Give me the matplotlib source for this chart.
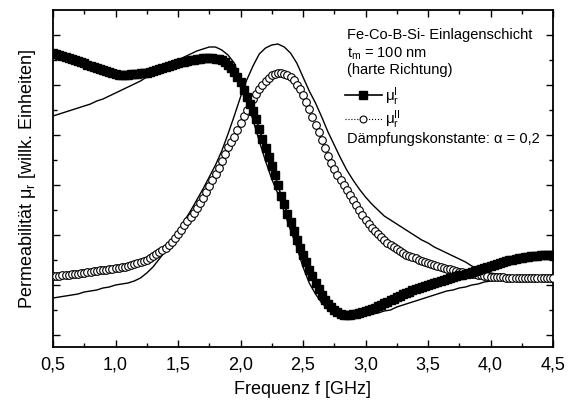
import numpy as np
import matplotlib
matplotlib.use('Agg')
import matplotlib.pyplot as plt
from matplotlib.ticker import FixedLocator

plt.rcParams['font.family'] = ['Liberation Sans', 'DejaVu Sans']
plt.rcParams['mathtext.fontset'] = 'custom'
plt.rcParams['mathtext.rm'] = 'Liberation Sans'
plt.rcParams['mathtext.it'] = 'Liberation Sans:italic'

# Messwerte, 0.5 .. 4.5 GHz in 0.025 GHz Schritten
f_meas = np.round(np.arange(0.5, 4.5001, 0.025), 3)

mu1_meas = [
    2.94, 2.93, 2.92, 2.91, 2.90, 2.89, 2.88, 2.87, 2.86, 2.85,
    2.84, 2.82, 2.81, 2.80, 2.79, 2.78, 2.77, 2.76, 2.75, 2.74,
    2.73, 2.72, 2.72, 2.72, 2.72, 2.73, 2.73, 2.73, 2.74, 2.74,
    2.74, 2.75, 2.76, 2.77, 2.78, 2.79, 2.80, 2.81, 2.82, 2.83,
    2.84, 2.85, 2.85, 2.86, 2.87, 2.87, 2.88, 2.88, 2.89, 2.89,
    2.89, 2.89, 2.88, 2.88, 2.87, 2.85, 2.82, 2.79, 2.75, 2.70,
    2.65, 2.57, 2.50, 2.43, 2.36, 2.28, 2.18, 2.08, 1.99, 1.90,
    1.81, 1.72, 1.62, 1.51, 1.43, 1.33, 1.25, 1.16, 1.07, 0.99,
    0.92, 0.85, 0.77, 0.71, 0.64, 0.58, 0.52, 0.47, 0.43, 0.40,
    0.37, 0.35, 0.33, 0.32, 0.32, 0.32, 0.33, 0.33, 0.34, 0.35,
    0.36, 0.37, 0.38, 0.39, 0.41, 0.42, 0.44, 0.45, 0.47, 0.48,
    0.50, 0.51, 0.53, 0.54, 0.55, 0.57, 0.58, 0.59, 0.60, 0.61,
    0.62, 0.63, 0.64, 0.65, 0.66, 0.67, 0.68, 0.69, 0.70, 0.71,
    0.72, 0.72, 0.73, 0.74, 0.75, 0.76, 0.77, 0.78, 0.79, 0.80,
    0.81, 0.82, 0.83, 0.84, 0.85, 0.86, 0.87, 0.87, 0.88, 0.89,
    0.89, 0.90, 0.90, 0.91, 0.91, 0.91, 0.92, 0.92, 0.92, 0.92,
    0.92,
]

mu2_meas = [
    0.71, 0.71, 0.71, 0.72, 0.72, 0.72, 0.73, 0.73, 0.73, 0.74,
    0.74, 0.75, 0.75, 0.76, 0.76, 0.77, 0.77, 0.77, 0.78, 0.78,
    0.79, 0.79, 0.80, 0.80, 0.81, 0.82, 0.83, 0.84, 0.85, 0.86,
    0.87, 0.89, 0.91, 0.93, 0.95, 0.97, 0.99, 1.02, 1.05, 1.09,
    1.13, 1.17, 1.22, 1.26, 1.30, 1.34, 1.39, 1.44, 1.49, 1.55,
    1.61, 1.67, 1.73, 1.79, 1.86, 1.93, 2.00, 2.05, 2.10, 2.17,
    2.24, 2.31, 2.37, 2.43, 2.48, 2.53, 2.58, 2.62, 2.66, 2.69,
    2.72, 2.73, 2.74, 2.74, 2.73, 2.72, 2.70, 2.67, 2.62, 2.58,
    2.52, 2.45, 2.38, 2.30, 2.22, 2.15, 2.07, 1.99, 1.91, 1.84,
    1.78, 1.72, 1.67, 1.62, 1.57, 1.52, 1.47, 1.42, 1.37, 1.32,
    1.27, 1.23, 1.19, 1.16, 1.13, 1.10, 1.07, 1.04, 1.02, 1.00,
    0.98, 0.96, 0.94, 0.92, 0.91, 0.90, 0.89, 0.87, 0.86, 0.85,
    0.84, 0.83, 0.82, 0.81, 0.80, 0.79, 0.78, 0.78, 0.77, 0.76,
    0.75, 0.75, 0.74, 0.74, 0.73, 0.73, 0.72, 0.72, 0.71, 0.71,
    0.70, 0.70, 0.70, 0.70, 0.70, 0.69, 0.69, 0.69, 0.69, 0.69,
    0.69, 0.69, 0.69, 0.69, 0.69, 0.69, 0.69, 0.69, 0.69, 0.69,
    0.69,
]

# Rechnung (duenne Linien), 0.05 GHz Schritte
f_calc = np.round(np.arange(0.5, 4.5001, 0.05), 3)

mu1_calc = [
    2.31, 2.33, 2.35, 2.37, 2.39, 2.41, 2.43, 2.46, 2.48, 2.51,
    2.54, 2.57, 2.60, 2.63, 2.66, 2.70, 2.73, 2.77, 2.81, 2.84,
    2.87, 2.90, 2.93, 2.96, 2.98, 3.00, 3.00, 2.97, 2.92, 2.84,
    2.66, 2.47, 2.27, 2.06, 1.86, 1.68, 1.53, 1.35, 1.17, 1.00,
    0.80, 0.64, 0.53, 0.44, 0.38, 0.33, 0.30, 0.29, 0.29, 0.30,
    0.31, 0.33, 0.34, 0.36, 0.37, 0.40, 0.42, 0.44, 0.46, 0.48,
    0.50, 0.52, 0.54, 0.56, 0.57, 0.59, 0.60, 0.62, 0.63, 0.65,
    0.66, 0.67, 0.68, 0.68, 0.69, 0.69, 0.70, 0.70, 0.71, 0.71,
    0.72,
]

mu2_calc = [
    0.49, 0.50, 0.51, 0.52, 0.53, 0.55, 0.56, 0.57, 0.59, 0.60,
    0.62, 0.63, 0.64, 0.66, 0.69, 0.74, 0.80, 0.88, 0.96, 1.05,
    1.15, 1.26, 1.36, 1.47, 1.58, 1.70, 1.82, 1.96, 2.13, 2.31,
    2.50, 2.67, 2.81, 2.93, 2.99, 3.02, 3.03, 3.00, 2.94, 2.84,
    2.70, 2.56, 2.44, 2.30, 2.15, 2.02, 1.89, 1.77, 1.67, 1.58,
    1.50, 1.43, 1.37, 1.31, 1.27, 1.23, 1.19, 1.15, 1.11, 1.07,
    1.04, 1.00, 0.97, 0.94, 0.91, 0.88, 0.85, 0.81, 0.78, 0.76,
    0.74, 0.73, 0.72, 0.71, 0.70, 0.69, 0.68, 0.67, 0.66, 0.66,
    0.65,
]

xticks = [0.5, 1.0, 1.5, 2.0, 2.5, 3.0, 3.5, 4.0, 4.5]
xtick_labels = ['0,5', '1,0', '1,5', '2,0', '2,5', '3,0', '3,5', '4,0', '4,5']


fig = plt.figure(figsize=(5.72, 4.03), dpi=100)
ax = fig.add_axes([53 / 572, 56 / 403, 500 / 572, 337 / 403])

# theory curves
ax.plot(f_calc, mu1_calc, color='black', lw=1.0, zorder=2)
ax.plot(f_calc, mu2_calc, color='black', lw=1.0, zorder=2)

# measured
ax.plot(f_meas, mu2_meas, linestyle=':', lw=0.8, color='black',
        marker='o', markersize=5.5, markerfacecolor='white',
        markeredgecolor='black', markeredgewidth=0.8,
        label=r'$\mathregular{μ_r^{II}}$', zorder=3)
ax.plot(f_meas, mu1_meas, linestyle='-', lw=1.2, color='black',
        marker='s', markersize=6, markerfacecolor='black',
        markeredgecolor='black', label=r'$\mathregular{μ_r^{I}}$', zorder=4)

ax.set_xlim(0.5, 4.5)
ax.set_ylim(0, 3.37)
ax.set_xticks(xticks)
ax.set_xticklabels(xtick_labels)
ax.xaxis.set_minor_locator(FixedLocator(np.arange(0.75, 4.5, 0.5)))
ax.set_yticks(np.arange(0.12, 3.2, 0.5))
ax.yaxis.set_minor_locator(FixedLocator(np.arange(0.37, 3.2, 0.5)))
ax.set_yticklabels([])

ax.tick_params(which='both', direction='in', top=True, right=True, width=1.0)
ax.tick_params(which='major', length=5, labelsize=13, pad=7)
ax.tick_params(which='minor', length=3)
for sp in ax.spines.values():
    sp.set_linewidth(1.3)

ax.set_xlabel('Frequenz f [GHz]', fontsize=13, labelpad=5)
ax.set_ylabel(r'Permeabilität $\mathregular{μ_r}$ [willk. Einheiten]', fontsize=13, labelpad=4)

handles, labels = ax.get_legend_handles_labels()
leg = ax.legend(handles[::-1], labels[::-1], loc='upper left',
                bbox_to_anchor=(345 / 572, 1 - 85 / 403), bbox_transform=fig.transFigure,
                frameon=False, fontsize=11, handlelength=2.4, handletextpad=0.2,
                labelspacing=0.05, borderpad=0, borderaxespad=0, markerscale=0.9)

fs = 10.5
fig.text(347 / 572, 1 - 39 / 403, 'Fe-Co-B-Si- Einlagenschicht', fontsize=fs, va='baseline')
fig.text(347 / 572, 1 - 58 / 403, r'$\mathregular{t_m}$ = 100 nm', fontsize=fs, va='baseline')
fig.text(347 / 572, 1 - 74 / 403, '(harte Richtung)', fontsize=fs, va='baseline')
fig.text(347 / 572, 1 - 143 / 403, 'Dämpfungskonstante: α = 0,2', fontsize=fs, va='baseline')

fig.savefig('out.png', dpi=100)
